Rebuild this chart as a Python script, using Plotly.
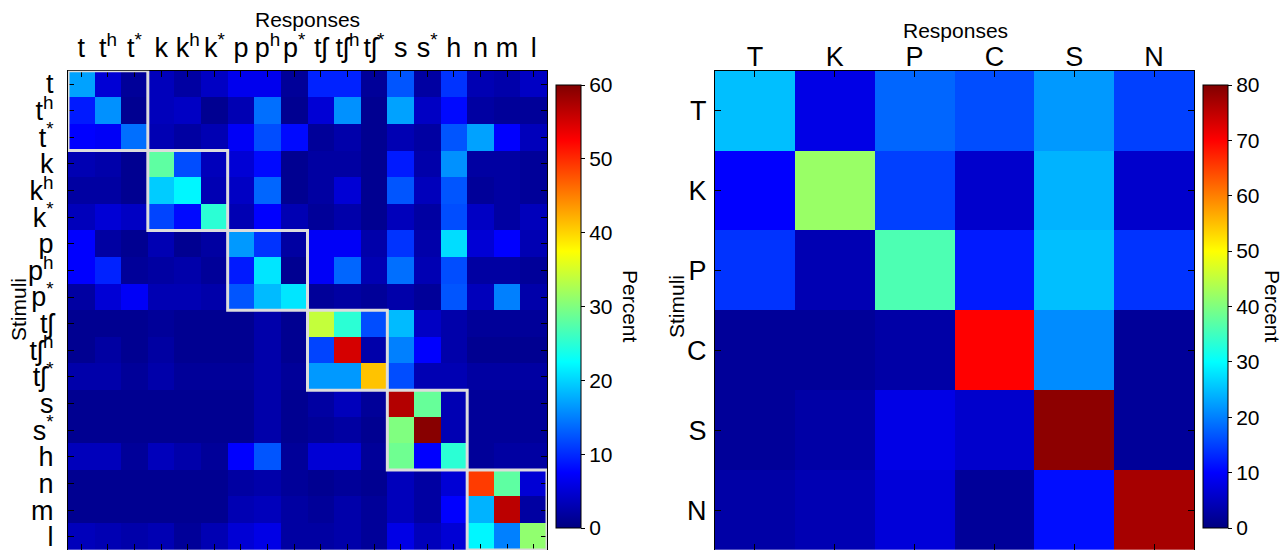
import plotly.graph_objects as go

# ---------------- data ----------------
left_labels = ["t", "t<sup>h</sup>", "t<sup>*</sup>", "k", "k<sup>h</sup>", "k<sup>*</sup>",
               "p", "p<sup>h</sup>", "p<sup>*</sup>", "tʃ", "tʃ<sup>h</sup>", "tʃ<sup>*</sup>",
               "s", "s<sup>*</sup>", "h", "n", "m", "l"]
group_sizes = [3, 3, 3, 3, 3, 3]

left_values = [
    [17, 5, 1.5, 3.5, 2, 4, 6.5, 6.5, 1.5, 9.5, 9.5, 1.5, 12.5, 2, 10.5, 3, 2.5, 4],
    [9, 16, 1, 3.5, 4, 1, 3, 14, 1, 5, 16, 1, 17, 4, 8, 2, 1.5, 1.5],
    [7.5, 7, 14, 3, 2, 3, 7, 12, 8, 1.5, 2.5, 1, 3, 2, 12.5, 17, 7.5, 3.5],
    [3, 2.5, 1, 28, 12, 3.5, 5, 8, 1, 2, 2, 1, 9, 2.5, 16, 2, 2, 1.5],
    [2, 2, 1, 19.5, 22, 3, 4, 13.5, 1, 2, 5, 1, 12.5, 3.5, 12.5, 1.5, 2, 1.5],
    [3.5, 5, 4, 11.5, 8, 25, 3, 7.5, 3, 1.5, 2.5, 1, 3.5, 2, 12, 4, 2, 3.5],
    [7.5, 2, 1, 3, 1, 2, 16.5, 10.5, 2, 7, 7, 2.5, 10.5, 2.5, 20.5, 5, 7.5, 3],
    [7.5, 9.5, 1.5, 2, 2.5, 1.5, 9, 21, 1, 7, 13.5, 3, 14, 3, 12, 2, 2, 1.5],
    [2, 5, 7, 3, 3, 2.5, 12.5, 18.5, 21, 1.5, 2, 1.5, 2.5, 1.5, 12.5, 3.5, 15, 2.5],
    [1, 1, 1, 1.5, 1, 1, 1, 2.5, 1, 34, 25, 12, 18.5, 4, 2.5, 1.5, 1.5, 1.5],
    [1, 2, 1, 2, 1, 1, 1, 2.5, 1, 11.5, 55, 2.5, 15, 7.5, 2.5, 1, 1, 1],
    [2.5, 2.5, 1.5, 2.5, 1.5, 1.5, 1.5, 2.5, 1.5, 16.5, 16.5, 41, 12, 3, 3, 2, 2, 2],
    [1, 1, 1, 1, 1, 1, 1, 2.5, 1, 2, 3.5, 1.5, 57, 28.5, 3, 1.5, 1.5, 1.5],
    [1, 1, 1, 1, 1, 1, 1, 2.5, 1, 1.5, 2, 1, 30, 59.5, 3, 1.5, 1.5, 1.5],
    [3.5, 3.5, 1.5, 3.5, 2.5, 1.5, 7.5, 12.5, 1.5, 5, 5, 1.5, 29, 7.5, 25, 1.5, 2, 2],
    [1, 1, 1, 1, 1, 1, 2, 2.5, 1.5, 1, 1.5, 1, 3.5, 2, 5, 49, 28, 5],
    [1, 1, 1, 1, 1, 1, 3, 3.5, 2, 1.5, 2.5, 1.5, 3.5, 2, 7.5, 18, 56.5, 2],
    [3.5, 3, 2.5, 3, 1.5, 3, 5, 6, 2, 2, 2.5, 1.5, 6, 3.5, 5, 22, 15, 31],
]

right_labels = ["T", "K", "P", "C", "S", "N"]
right_values = [
    [25, 8, 18, 16, 22, 15],
    [10, 42, 15, 6, 24, 6],
    [14, 4, 36, 12, 25, 14],
    [2, 2, 3, 70, 21, 2],
    [2, 3, 8, 6, 79, 2],
    [3, 4, 7, 2, 11, 77],
]

left_cbar_ticks = [0, 10, 20, 30, 40, 50, 60]
right_cbar_ticks = [0, 10, 20, 30, 40, 50, 60, 70, 80]

# ---------------- style ----------------
W, H = 1287, 550
FONT = "Liberation Sans, Arial, Helvetica, sans-serif"
jet = [[0.0, "rgb(0,0,128)"], [0.125, "rgb(0,0,255)"], [0.375, "rgb(0,255,255)"],
       [0.625, "rgb(255,255,0)"], [0.875, "rgb(255,0,0)"], [1.0, "rgb(128,0,0)"]]


def px_x(p):
    return p / W


def px_y(p):
    return 1 - p / H


def cbar(x_left, ticks):
    return dict(x=px_x(x_left), xanchor="left", y=px_y(306.5), yanchor="middle",
                lenmode="pixels", len=443, thicknessmode="pixels", thickness=25,
                xpad=0, ypad=0,
                outlinecolor="black", outlinewidth=1,
                tickvals=ticks, ticks="outside", ticklen=4, tickcolor="black",
                tickfont=dict(size=21, family=FONT, color="black"))


n_left = len(left_labels)
fig = go.Figure()

fig.add_trace(go.Heatmap(
    z=left_values, x=list(range(n_left)), y=list(range(n_left)),
    colorscale=jet, zmin=0, zmax=60, xaxis="x", yaxis="y",
    colorbar=cbar(556, left_cbar_ticks),
))

fig.add_trace(go.Heatmap(
    z=right_values, x=right_labels, y=right_labels,
    colorscale=jet, zmin=0, zmax=80, xaxis="x2", yaxis="y2",
    colorbar=cbar(1203, right_cbar_ticks),
))

axis_common = dict(showline=True, linecolor="black", linewidth=1, mirror="ticks",
                   ticks="inside", ticklen=6, tickcolor="black", showgrid=False,
                   zeroline=False, automargin=False, tickangle=0,
                   ticklabeloverflow="allow", tickfont=dict(size=27))

# group boxes along diagonal
shapes = []
start = 0
for g in group_sizes:
    shapes.append(dict(type="rect", xref="x", yref="y",
                       x0=start - 0.5, x1=start + g - 0.5,
                       y0=start - 0.5, y1=start + g - 0.5,
                       line=dict(color="#DCDCDC", width=3), fillcolor="rgba(0,0,0,0)"))
    start += g


def label(text, x, y, angle=0):
    return dict(text=text, textangle=angle, x=px_x(x), y=px_y(y), xref="paper", yref="paper",
                xanchor="center", yanchor="middle", showarrow=False,
                font=dict(size=21, family=FONT, color="black"))


fig.update_layout(
    width=W, height=H, margin=dict(l=0, r=0, t=0, b=0),
    paper_bgcolor="white", plot_bgcolor="white", template="none",
    font=dict(family=FONT, color="black"),
    xaxis=dict(axis_common, domain=[px_x(68), px_x(547)], side="top", anchor="y",
               tickvals=list(range(n_left)), ticktext=left_labels,
               range=[-0.5, n_left - 0.5], ticklabelstandoff=2),
    yaxis=dict(axis_common, domain=[0, px_y(70.7)], anchor="x",
               tickvals=list(range(n_left)), ticktext=left_labels,
               range=[n_left - 0.5, -0.5], ticklabelstandoff=8),
    xaxis2=dict(axis_common, domain=[px_x(715), px_x(1194)], side="top", anchor="y2",
                type="category", ticklabelstandoff=-7),
    yaxis2=dict(axis_common, domain=[0, px_y(70.7)], anchor="x2", type="category",
                autorange="reversed", ticklabelstandoff=2),
    shapes=shapes,
    annotations=[
        label("Responses", 307, 19),
        label("Responses", 955, 30),
        label("Stimuli", 18, 310, -90),
        label("Stimuli", 676, 307, -90),
        label("Percent", 631, 306, 90),
        label("Percent", 1273, 306, 90),
    ],
)

fig.write_html("out.html", config={"displayModeBar": False},
               post_script="document.body.style.margin='0';document.body.style.overflow='hidden';")
